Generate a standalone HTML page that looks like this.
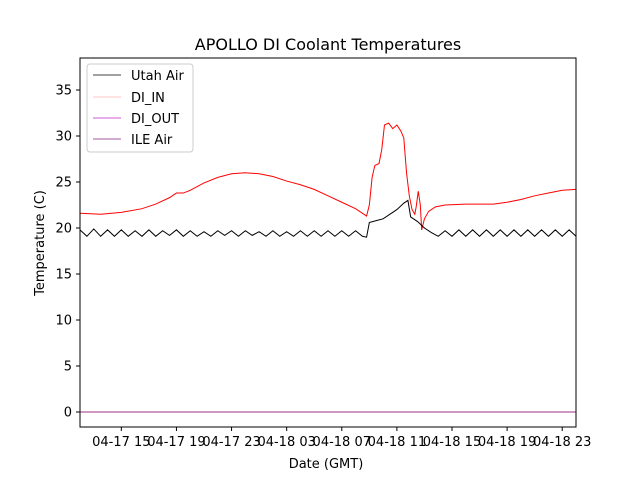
<!DOCTYPE html>
<html><head><meta charset="utf-8"><style>
body{margin:0;background:#fff}
text{font-family:"DejaVu Sans","Liberation Sans",sans-serif;}
</style></head><body>
<svg id="c" width="640" height="480" xmlns="http://www.w3.org/2000/svg">
<rect width="640" height="480" fill="#fff"/>
<text x="328" y="50" text-anchor="middle" font-size="16">APOLLO DI Coolant Temperatures</text>
<text x="326" y="468" text-anchor="middle" font-size="13">Date (GMT)</text>
<text transform="translate(44,243) rotate(-90)" text-anchor="middle" font-size="13">Temperature (C)</text>
<g id="plot"></g>
<rect x="80" y="58" width="496" height="369" fill="none" stroke="#000" stroke-width="1"/>
<g>
<rect x="87" y="64" width="106" height="88" fill="#fff" stroke="#ccc" rx="3"/>
<line x1="93" x2="121" y1="75" y2="75" stroke="#000" stroke-width="0.8"/>
<text x="131" y="80" font-size="13">Utah Air</text>
<line x1="93" x2="121" y1="97" y2="97" stroke="#ffb0b0" stroke-width="0.8"/>
<text x="131" y="102" font-size="13">DI_IN</text>
<line x1="93" x2="121" y1="118" y2="118" stroke="#c020c0" stroke-width="0.8"/>
<text x="131" y="123" font-size="13">DI_OUT</text>
<line x1="93" x2="121" y1="139" y2="139" stroke="#802080" stroke-width="0.8"/>
<text x="131" y="144" font-size="13">ILE Air</text>
</g>
</svg>
<script>
const yTicks=[0,5,10,15,20,25,30,35];
const xTickHours=[3,7,11,15,19,23,27,31,35];
const xTickLabels=["04-17 15","04-17 19","04-17 23","04-18 03","04-18 07","04-18 11","04-18 15","04-18 19","04-18 23"];
const redT=[0,1.5,3,4.5,5.5,6.5,7,7.5,8,9,10,11,12,13,14,15,16,17,18,19,20,20.8,21.0,21.2,21.4,21.7,21.9,22.1,22.4,22.7,23.0,23.3,23.5,23.7,23.9,24.1,24.3,24.4,24.55,24.7,24.8,25.0,25.3,25.8,26.5,28,30,31,32,33,34,35,36];
const redV=[21.6,21.5,21.7,22.1,22.6,23.3,23.8,23.8,24.1,24.9,25.5,25.9,26.0,25.9,25.6,25.1,24.7,24.2,23.5,22.8,22.1,21.3,22.5,25.5,26.8,27.0,28.5,31.2,31.4,30.8,31.2,30.5,29.8,26.0,23.5,22.0,21.5,22.3,24.0,22.5,19.8,21.0,21.8,22.3,22.5,22.6,22.6,22.8,23.1,23.5,23.8,24.1,24.2];
const blackT=[0,0.5,1,1.5,2,2.5,3,3.5,4,4.5,5,5.5,6,6.5,7,7.5,8,8.5,9,9.5,10,10.5,11,11.5,12,12.5,13,13.5,14,14.5,15,15.5,16,16.5,17,17.5,18,18.5,19,19.5,20,20.5,20.8,21.0,21.5,22,22.5,23,23.5,23.8,24.0,24.5,25,25.5,26,26.5,27,27.5,28,28.5,29,29.5,30,30.5,31,31.5,32,32.5,33,33.5,34,34.5,35,35.5,36];
const blackV=[19.8,19.1,19.9,19.1,19.8,19.1,19.8,19.1,19.7,19.1,19.8,19.1,19.7,19.2,19.8,19.1,19.7,19.1,19.6,19.1,19.7,19.2,19.7,19.1,19.7,19.2,19.6,19.1,19.7,19.1,19.6,19.1,19.7,19.1,19.7,19.1,19.7,19.1,19.7,19.1,19.7,19.1,19.0,20.6,20.8,21.0,21.5,22.0,22.7,23.0,21.2,20.7,20.0,19.5,19.1,19.7,19.1,19.8,19.1,19.8,19.1,19.8,19.1,19.8,19.1,19.8,19.1,19.8,19.1,19.8,19.1,19.8,19.1,19.8,19.1];
const zeroT=[0,36];
const zeroV=[0,0];
const X=t=>80+t*496/36;
const Y=v=>412-v*9.2;
const NS="http://www.w3.org/2000/svg";
const g=document.getElementById('plot');
function mk(tag,attrs){const e=document.createElementNS(NS,tag);for(const k in attrs)e.setAttribute(k,attrs[k]);g.appendChild(e);return e;}
yTicks.forEach(v=>{
  const l=mk('line',{x1:76,x2:80,y1:Y(v),y2:Y(v),stroke:'#000'});
  
  
  const t=mk('text',{x:72,y:Y(v)+4.5,'text-anchor':'end','font-size':13});
  t.textContent=v;
  
  
});
xTickHours.forEach((h,i)=>{
  const l=mk('line',{x1:X(h),x2:X(h),y1:427,y2:431,stroke:'#000'});
  
  
  const t=mk('text',{x:X(h),y:446,'text-anchor':'middle','font-size':13});
  t.textContent=xTickLabels[i];
  
  
});
function line(T,V,color,name){
  const p=mk('polyline',{points:T.map((t,i)=>X(t)+','+Y(V[i])).join(' '),fill:'none',stroke:color,'stroke-width':1});
  
  
}
line(zeroT,zeroV,'#a03080','series-zero-line');
line(redT,redV,'#ff0000','series-di-in');
line(blackT,blackV,'#000000','series-utah-air');
</script>
</body></html>
